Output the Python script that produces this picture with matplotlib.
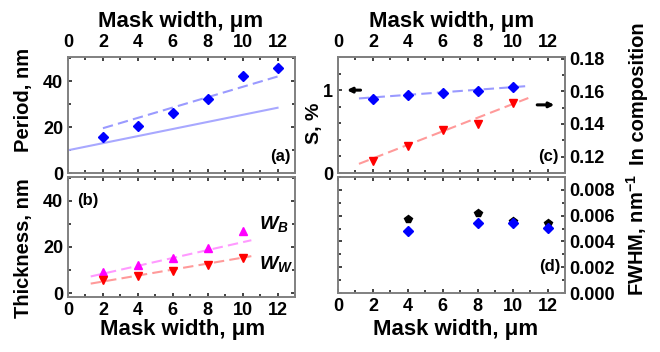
import matplotlib
matplotlib.use("Agg")
import matplotlib.pyplot as plt
from matplotlib.ticker import MultipleLocator

plt.rcParams['font.family'] = ['Liberation Sans', 'DejaVu Sans']
plt.rcParams['font.weight'] = 'bold'
plt.rcParams['mathtext.fontset'] = 'custom'
plt.rcParams['mathtext.it'] = 'Liberation Sans:italic:bold'
plt.rcParams['mathtext.rm'] = 'Liberation Sans:bold'
plt.rcParams['mathtext.bf'] = 'Liberation Sans:bold'

# ---- data ----
mask_a = [2, 4, 6, 8, 10, 12]
period = [15.7, 20.4, 26.0, 32.3, 42.3, 45.8]
period_fit_x = [2, 12]
period_fit_y = [19.5, 42.0]
period_line_x = [0, 12]
period_line_y = [9.9, 28.4]

mask_b = [2, 4, 6, 8, 10]
w_b = [9.1, 12.0, 15.4, 19.6, 26.8]
w_w = [5.8, 7.3, 9.6, 12.0, 15.0]
fit_b_x = [1.3, 10.5]
w_b_fit = [7.2, 22.9]
w_w_fit = [4.1, 16.0]

mask_c = [2, 4, 6, 8, 10]
strain = [0.89, 0.94, 0.96, 0.99, 1.04]
in_comp = [0.1176, 0.1268, 0.1364, 0.140, 0.1528]
fit_c_x = [1.2, 10.9]
strain_fit = [0.90, 1.05]
in_fit = [0.1156, 0.1559]

mask_d = [4, 8, 10, 12]
fwhm_black = [0.00571, 0.00618, 0.0056, 0.0054]
fwhm_blue = [0.0048, 0.0054, 0.00545, 0.00506]

xticks = [0, 2, 4, 6, 8, 10, 12]

W, H = 660, 352
fig = plt.figure(figsize=(6.6, 3.52), dpi=100)

def ax_at(x0, y0, x1, y1):
    return fig.add_axes([x0 / W, 1 - y1 / H, (x1 - x0) / W, (y1 - y0) / H])

def ftext(x, y, s, rot=0, size=15, ha='center'):
    fig.text(x / W, 1 - y / H, s, rotation=rot, ha=ha, va='center',
             fontsize=size, fontweight='bold')

SP = '#808080'
TK = 13
PAD = 3.4

def style(ax):
    for s in ax.spines.values():
        s.set_color(SP)
        s.set_linewidth(1.4)
    ax.tick_params(which='both', direction='in', color='#222222', width=1.2,
                   labelsize=TK, pad=PAD)
    ax.tick_params(which='major', length=3)
    ax.tick_params(which='minor', length=2)
    ax.set_xlim(0, 13)
    ax.set_xticks(xticks)
    ax.xaxis.set_minor_locator(MultipleLocator(1))

ax_a = ax_at(68, 57, 295, 173)
ax_b = ax_at(68, 177, 295, 297)
ax_c = ax_at(338, 57, 565, 173)
ax_d = ax_at(338, 177, 565, 293)

blue_line = '#9a9aff'
red_line = '#ff9a9a'
mag_line = '#ff9aff'
dash = (5, 2.5)

# (a)
style(ax_a)
ax_a.plot(period_line_x, period_line_y, color='#a8a8ff', lw=1.5)
ax_a.plot(period_fit_x, period_fit_y, color=blue_line, lw=1.5, dashes=dash)
ax_a.plot(mask_a, period, 'D', color='#0000ff', ms=5)
ax_a.set_ylim(0, 50.5)
ax_a.set_yticks([0, 20, 40])
ax_a.yaxis.set_minor_locator(MultipleLocator(10))
ax_a.tick_params(axis='x', which='both', top=True, bottom=True,
                 labeltop=True, labelbottom=False)
ax_a.tick_params(axis='x', pad=4.2)
ax_a.tick_params(axis='y', which='both', left=True, right=True)
ftext(291, 157, '(a)', size=12, ha='right')

# (b)
style(ax_b)
ax_b.plot(fit_b_x, w_b_fit, color=mag_line, lw=1.5, dashes=dash)
ax_b.plot(fit_b_x, w_w_fit, color=red_line, lw=1.5, dashes=dash)
ax_b.plot(mask_b, w_b, '^', color='#ff00ff', ms=6)
ax_b.plot(mask_b, w_w, 'v', color='#ff0000', ms=6)
ax_b.set_ylim(-1.7, 50.3)
ax_b.set_yticks([0, 20, 40])
ax_b.yaxis.set_minor_locator(MultipleLocator(10))
ax_b.tick_params(axis='x', which='both', top=True, bottom=True)
ax_b.tick_params(axis='y', which='both', left=True, right=True)
ftext(77, 200, '(b)', size=12, ha='left')
ax_b.text(10.95, 30, r'$W_B$', fontsize=14, ha='left', va='center')
ax_b.text(10.95, 12.5, r'$W_W$', fontsize=14, ha='left', va='center')

# (c)
style(ax_c)
ax_c.plot(fit_c_x, strain_fit, color=blue_line, lw=1.5, dashes=dash)
ax_c.plot(mask_c, strain, 'D', color='#0000ff', ms=5)
ax_c.set_ylim(0, 1.4)
ax_c.set_yticks([0, 1])
ax_c.yaxis.set_minor_locator(MultipleLocator(0.2))
ax_c.tick_params(axis='x', which='both', top=True, bottom=True,
                 labeltop=True, labelbottom=False)
ax_c.tick_params(axis='x', pad=4.2)
ax_c.annotate('', xy=(0.35, 1.0), xytext=(1.45, 1.0),
              arrowprops=dict(arrowstyle='-|>', color='black', lw=2.2,
                              mutation_scale=7))
ax_c2 = ax_c.twinx()
style(ax_c2)
ax_c2.plot(fit_c_x, in_fit, color=red_line, lw=1.5, dashes=dash)
ax_c2.plot(mask_c, in_comp, 'v', color='#ff0000', ms=6)
ax_c2.set_ylim(0.11, 0.181)
ax_c2.set_yticks([0.12, 0.14, 0.16, 0.18])
ax_c2.yaxis.set_minor_locator(MultipleLocator(0.01))
ax_c2.annotate('', xy=(12.55, 0.1517), xytext=(11.25, 0.1517),
               arrowprops=dict(arrowstyle='-|>', color='black', lw=2.2,
                               mutation_scale=7))
ftext(559, 157, '(c)', size=12, ha='right')

# (d)
style(ax_d)
ax_d.plot(mask_d, fwhm_black, 'p', color='black', ms=6)
ax_d.plot(mask_d, fwhm_blue, 'D', color='#0000ff', ms=5)
ax_d.set_ylim(0, 0.009)
ax_d.set_yticks([0, 0.002, 0.004, 0.006, 0.008])
ax_d.set_yticklabels(['0.000', '0.002', '0.004', '0.006', '0.008'])
ax_d.yaxis.set_minor_locator(MultipleLocator(0.001))
ax_d.yaxis.tick_right()
ax_d.tick_params(axis='y', which='both', left=True, right=True,
                 labelleft=False, labelright=True)
ax_d.tick_params(axis='x', which='both', top=True, bottom=True)
ftext(560, 267, '(d)', size=12, ha='right')

# axis titles
ftext(181, 21, 'Mask width, μm', size=16)
ftext(452, 21, 'Mask width, μm', size=16)
ftext(183, 330, 'Mask width, μm', size=16)
ftext(456, 330, 'Mask width, μm', size=16)
ftext(24, 100, 'Period, nm', rot=90, size=14.5)
ftext(24, 248, 'Thickness, nm', rot=90, size=14.5)
ftext(315, 123, 'S, %', rot=90, size=14)
ftext(639, 94, 'In composition', rot=90, size=14.5)
ftext(637, 235, r'FWHM, nm$^{\mathbf{-1}}$', rot=90, size=14.5)

fig.savefig('out.png', dpi=100)
